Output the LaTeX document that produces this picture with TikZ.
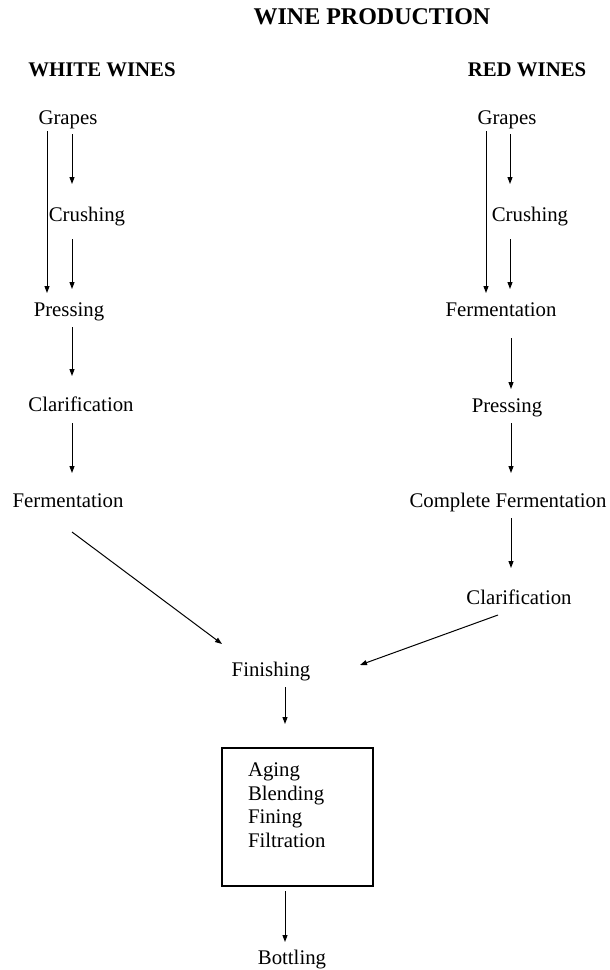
\documentclass[tikz,border=0pt]{standalone}
\usepackage{fontspec}
\setmainfont{Liberation Serif}
\usetikzlibrary{arrows.meta}

\begin{document}
\begin{tikzpicture}[x=1pt, y=-1pt, >={Triangle[length=7pt,width=5pt]}, line width=1pt,
  stage/.style={font=\fontsize{20.8}{23.5}\selectfont, inner sep=0pt, outer sep=0pt,
    text height=14pt, text depth=5pt},
  heading/.style={font=\fontsize{20.8}{23.5}\selectfont\bfseries},
  title/.style={font=\fontsize{24}{28}\selectfont\bfseries},
  stage box/.style={draw, line width=1.2pt, outer sep=0pt, font=\fontsize{20.8}{23.5}\selectfont,
    text width=99pt, inner xsep=26pt, minimum height=138pt, align=left}]
\useasboundingbox (0,0) rectangle (610,970);

\node [title] (title) at (372,17) {WINE PRODUCTION};
\node [heading] (white) at (102,70) {WHITE WINES};
\node [heading] (red) at (527,70) {RED WINES};

\foreach \n/\t/\x/\y in {grapes/Grapes/68/120, crush/Crushing/87/217, press/Pressing/69/312,
    clar/Clarification/81/407, ferm/Fermentation/68/503}
  \node [stage] (white-\n) at (\x,\y) {\t};

\foreach \n/\t/\x/\y in {grapes/Grapes/507/120, crush/Crushing/530/217, ferm/Fermentation/501/312,
    press/Pressing/507/408, complete/Complete Fermentation/508/503, clar/Clarification/519/600}
  \node [stage] (red-\n) at (\x,\y) {\t};

\node [stage] (finish) at (271,672) {Finishing};
\node [stage box, anchor=north west] (treat) at (222,748) {Aging\\Blending\\Fining\\Filtration\\~};
\node [stage] (bottle) at (292,960) {Bottling};

% white wines
\draw [->] ([shift={(-21,1.5)}]white-grapes.south) -- ([shift={(-22,-9.5)}]white-press.north);
\draw [->] ([shift={(4,4.5)}]white-grapes.south) -- ([shift={(-15,-23.5)}]white-crush.north);
\draw [->] ([shift={(-15,12.5)}]white-crush.south) -- ([shift={(3,-13.5)}]white-press.north);
\draw [->] ([shift={(3,5.5)}]white-press.south) -- ([shift={(-9,-21.5)}]white-clar.north);
\draw [->] ([shift={(-9,6.5)}]white-clar.south) -- ([shift={(4,-20.5)}]white-ferm.north);
\draw [->] ([shift={(4,19.5)}]white-ferm.south) -- ([shift={(-49,-18.5)}]finish.north);

% red wines
\draw [->] ([shift={(-21,1.5)}]red-grapes.south) -- ([shift={(-15,-9.5)}]red-ferm.north);
\draw [->] ([shift={(3,4.5)}]red-grapes.south) -- ([shift={(-20,-23.5)}]red-crush.north);
\draw [->] ([shift={(-20,12.5)}]red-crush.south) -- ([shift={(9,-13.5)}]red-ferm.north);
\draw [->] ([shift={(10,16.5)}]red-ferm.south) -- ([shift={(4,-9.5)}]red-press.north);
\draw [->] ([shift={(4,5.5)}]red-press.south) -- ([shift={(3,-20.5)}]red-complete.north);
\draw [->] ([shift={(3,5.5)}]red-complete.south) -- ([shift={(-8,-22.5)}]red-clar.north);
\draw [->] ([shift={(-21,5.5)}]red-clar.south) -- ([shift={(89,2.5)}]finish.north);

% finishing
\draw [->] ([shift={(14,5.5)}]finish.south) -- ([shift={(-12.5,-24)}]treat.north);
\draw [->] ([shift={(-12.5,5)}]treat.south) -- ([shift={(-7,-8.5)}]bottle.north);
\end{tikzpicture}
\end{document}
